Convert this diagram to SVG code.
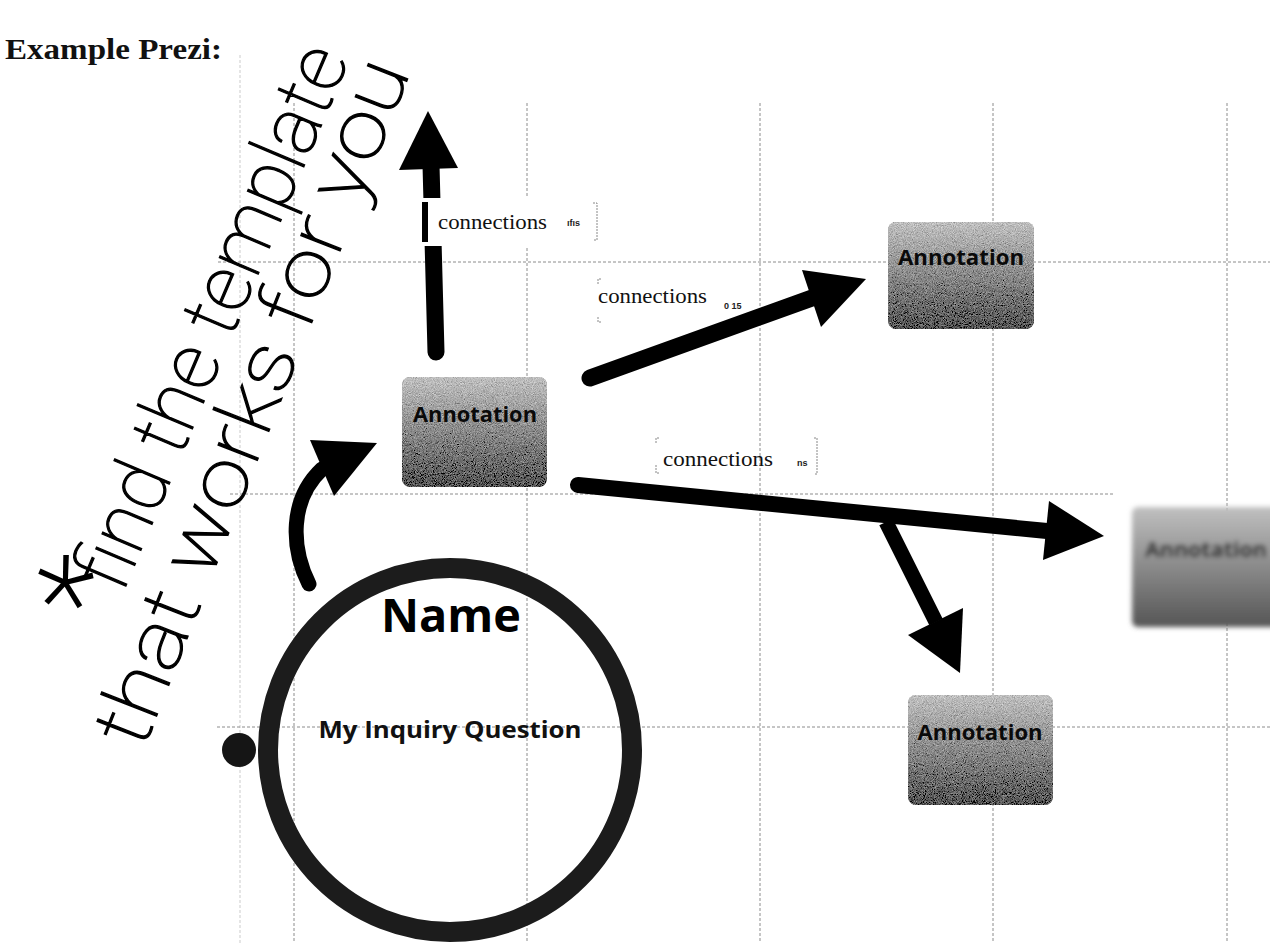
<svg xmlns="http://www.w3.org/2000/svg" width="1270" height="943" viewBox="0 0 1270 943">
  <style>
    .grid { stroke: #8c8c8c; stroke-width: 1; stroke-dasharray: 3 2; fill: none; }
    .shaft { stroke: #000; fill: none; stroke-linecap: round; }
    .head { fill: #000; }
    .conn { font-family: "Liberation Serif", serif; font-size: 21px; fill: #111; }
    .tiny { font-family: "Liberation Sans", sans-serif; font-size: 9px; font-weight: bold; fill: #222; }
    .ann { font-family: "Open Sans", "Liberation Sans", sans-serif; font-weight: bold; font-size: 21px; fill: #0a0a0a; text-anchor: middle; }
    .hand { font-family: Roboto, Lato, "DejaVu Sans", sans-serif; font-weight: 100; fill: #000; stroke: #000; stroke-width: 1.2; }
    .brk { stroke: #888; stroke-width: 1; fill: none; stroke-dasharray: 2 1; }
  </style>
  <defs>
    <linearGradient id="boxg" x1="0" y1="0" x2="0" y2="1">
      <stop offset="0" stop-color="#c0c0c0"/>
      <stop offset="0.5" stop-color="#8a8a8a"/>
      <stop offset="1" stop-color="#555555"/>
    </linearGradient>
    <filter id="grain" x="0" y="0" width="100%" height="100%">
      <feTurbulence type="fractalNoise" baseFrequency="1.1" numOctaves="2" seed="4" result="n"/>
      <feColorMatrix in="n" type="matrix" values="0.33 0.33 0.33 0 0  0.33 0.33 0.33 0 0  0.33 0.33 0.33 0 0  0 0 0 0 1" result="g"/>
      <feComposite in="SourceGraphic" in2="g" operator="arithmetic" k1="0" k2="1" k3="1.1" k4="-0.55" result="m"/>
      <feComposite in="m" in2="SourceAlpha" operator="in"/>
    </filter>
    <filter id="blur" x="-10%" y="-10%" width="120%" height="130%">
      <feGaussianBlur stdDeviation="2.5"/>
    </filter>
  </defs>

  <rect x="0" y="0" width="1270" height="943" fill="#ffffff"/>

  <g id="grid">
    <line class="grid" x1="240" y1="55" x2="240" y2="943" opacity="0.45"/>
    <line class="grid" x1="294" y1="103" x2="294" y2="943"/>
    <line class="grid" x1="527" y1="103" x2="527" y2="943"/>
    <line class="grid" x1="760" y1="103" x2="760" y2="943"/>
    <line class="grid" x1="993" y1="103" x2="993" y2="943"/>
    <line class="grid" x1="1227" y1="103" x2="1227" y2="943"/>
    <line class="grid" x1="218" y1="262" x2="1270" y2="262"/>
    <line class="grid" x1="230" y1="494" x2="1115" y2="494"/>
    <line class="grid" x1="217" y1="727" x2="1270" y2="727"/>
  </g>

  <text id="title" x="5" y="59" font-family="'Liberation Serif', serif" font-weight="bold" font-size="29" textLength="217" lengthAdjust="spacingAndGlyphs" fill="#111">Example Prezi:</text>

  <g id="handwriting">
    <text class="hand" transform="translate(133,513) rotate(-67)"><tspan x="-118" y="30" font-size="130" stroke-width="2">*</tspan><tspan x="-80" y="22" font-size="80">find the template</tspan></text>
    <text class="hand" transform="translate(143,751) rotate(-68.5)" x="0" y="0" font-size="80" textLength="730" lengthAdjust="spacingAndGlyphs">that works for you</text>
  </g>

  <g id="connectors">
    <line class="shaft" x1="436" y1="352" x2="431" y2="165" stroke-width="17"/>
    <polygon class="head" points="399,170 428,111 458,168"/>
    <path class="shaft" d="M309,584 C291,548 289,500 322,469" stroke-width="15"/>
    <polygon class="head" points="310,440 377,443 334,496"/>
    <line class="shaft" x1="590" y1="378" x2="812" y2="298" stroke-width="17"/>
    <polygon class="head" points="802,270 866,279 821,327"/>
    <line class="shaft" x1="578" y1="485" x2="1047" y2="531" stroke-width="16"/>
    <polygon class="head" points="1049,501 1104,536 1043,560"/>
    <line x1="886" y1="522" x2="936" y2="622" stroke="#000" stroke-width="15"/>
    <polygon class="head" points="908,635 960,673 963,608"/>
  </g>

  <g id="label1">
    <rect x="421" y="198" width="179" height="48" fill="#fff"/>
    <rect x="422" y="202" width="6" height="40" fill="#000"/>
    <text class="conn" x="438" y="229" textLength="109" lengthAdjust="spacingAndGlyphs">connections</text>
    <text class="tiny" x="567" y="226">ıfıs</text>
    <path class="brk" d="M593,203 h4 v37 h-4"/>
  </g>

  <g id="label2">
    <text class="conn" x="598" y="303" textLength="109" lengthAdjust="spacingAndGlyphs">connections</text>
    <text class="tiny" x="724" y="309">0 15</text>
    <path class="brk" d="M601,279 h-3 v5 M598,317 v5 h3"/>
  </g>

  <g id="label3">
    <text class="conn" x="663" y="466" textLength="110" lengthAdjust="spacingAndGlyphs">connections</text>
    <text class="tiny" x="797" y="466" font-size="10">ns</text>
    <path class="brk" d="M659,438 h-3 v6 M656,465 v8 h3 M814,438 h3 v36 h-3"/>
  </g>

  <g id="node-annotation-1">
    <rect x="402" y="377" width="145" height="110" rx="8" fill="url(#boxg)" filter="url(#grain)"/>
    <text class="ann" x="475" y="422" font-size="22" textLength="124" lengthAdjust="spacingAndGlyphs">Annotation</text>
  </g>

  <g id="node-annotation-2">
    <rect x="888" y="222" width="146" height="107" rx="8" fill="url(#boxg)" filter="url(#grain)"/>
    <text class="ann" x="961" y="265" textLength="126" lengthAdjust="spacingAndGlyphs">Annotation</text>
  </g>

  <g id="node-annotation-3">
    <rect x="908" y="695" width="145" height="110" rx="8" fill="url(#boxg)" filter="url(#grain)"/>
    <text class="ann" x="980" y="740" textLength="125" lengthAdjust="spacingAndGlyphs">Annotation</text>
  </g>

  <g id="node-annotation-4" filter="url(#blur)">
    <rect x="1132" y="507" width="150" height="120" rx="6" fill="url(#boxg)"/>
    <text class="ann" x="1206" y="557" font-size="18" textLength="122" lengthAdjust="spacingAndGlyphs" fill="#000">Annotation</text>
  </g>

  <g id="node-name">
    <circle cx="450" cy="750" r="182" fill="none" stroke="#1c1c1c" stroke-width="20"/>
    <text x="451" y="632" font-family="'Open Sans', 'Liberation Sans', sans-serif" font-weight="bold" font-size="46" text-anchor="middle" textLength="140" lengthAdjust="spacingAndGlyphs" fill="#000">Name</text>
    <text x="450" y="738" font-family="'Open Sans', 'Liberation Sans', sans-serif" font-weight="bold" font-size="24" text-anchor="middle" textLength="263" lengthAdjust="spacingAndGlyphs" fill="#111">My Inquiry Question</text>
  </g>

  <g id="node-step">
    <circle cx="239" cy="750" r="17" fill="#151515"/>
  </g>
</svg>
